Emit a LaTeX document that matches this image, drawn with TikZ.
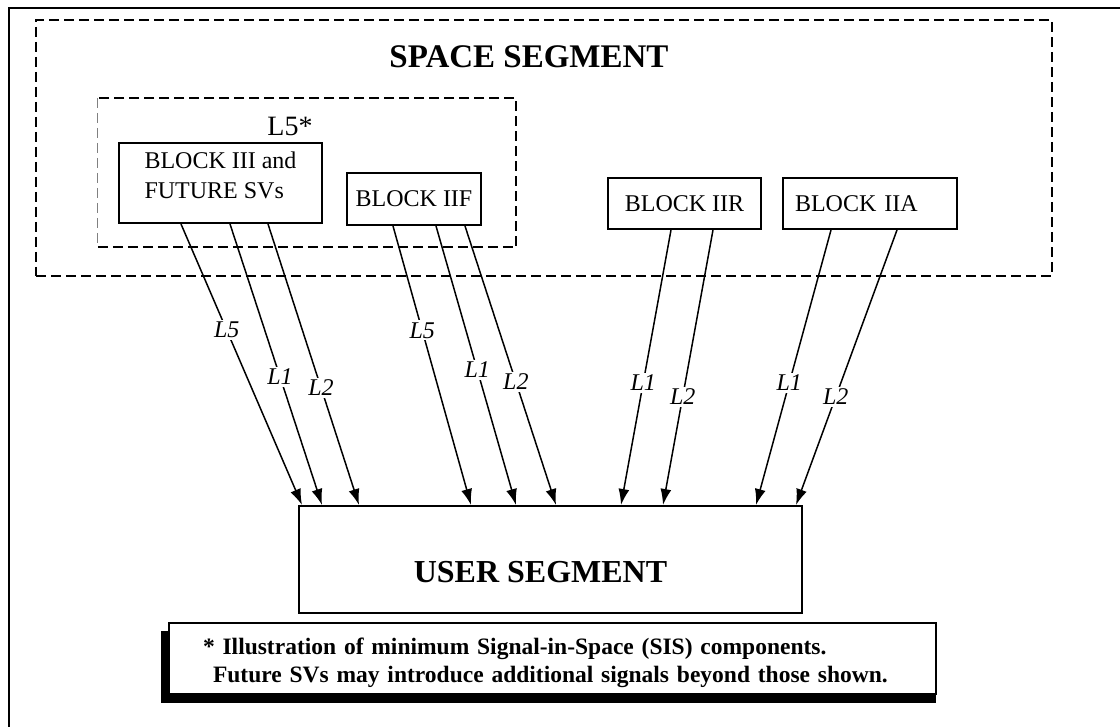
\documentclass[tikz,border=0pt]{standalone}
\usepackage{fontspec}
\setmainfont{Liberation Serif}
\usetikzlibrary{arrows.meta}

\begin{document}
\begin{tikzpicture}[
                    x=1pt, y=-1pt,
                    frame_line/.style={line width=2.4pt},
                    dash_box/.style={line width=2.4pt, dash pattern=on 10pt off 5pt},
                    block_box/.style={draw, line width=2pt, inner sep=0pt, font=\fontsize{24}{30}\selectfont},
                    seg_title/.style={font=\bfseries\fontsize{33}{38}\selectfont},
                    sig_line/.style={line width=1.5pt, -{Latex[length=16pt,width=11pt]}},
                    sig_label/.style={fill=white, inner sep=2pt, font=\itshape\fontsize{24}{28}\selectfont}
                ]
                    \useasboundingbox (0,0) rectangle (1120,727);
                    \draw[frame_line] (9,727) -- (9,8) -- (1120,8);

                    \node[draw, dash_box, minimum width=1016pt, minimum height=256pt] (space_seg) at (544,148) {};
                    \node[seg_title] (space_title) at (529,57) {SPACE SEGMENT};

                    \node[minimum width=418pt, minimum height=149pt] (l5_group) at (307,172.5) {};
                    \draw[dash_box] (l5_group.south west) -- (l5_group.south east) -- (l5_group.north east) -- (l5_group.north west);
                    \draw[gray, line width=0.8pt, dash pattern=on 10pt off 5pt] (l5_group.north west) -- (l5_group.south west);
                    \node[font=\fontsize{28}{32}\selectfont] (l5_title) at (290,126) {L5*};

                    \node[block_box, minimum width=203pt, minimum height=80pt, align=left] (blk_three) at (220.5,183) {BLOCK III and\\FUTURE SVs\rule[-16pt]{0pt}{16pt}};
                    \node[block_box, minimum width=134pt, minimum height=52pt] (blk_iif) at (414,199) {BLOCK IIF};
                    \node[block_box, minimum width=153pt, minimum height=51pt] (blk_iir) at (684.5,203.5) {BLOCK IIR};
                    \node[block_box, minimum width=174pt, minimum height=51pt, text width=150pt, inner xsep=12pt, align=left] (blk_iia) at (870,203.5) {BLOCK IIA};

                    \node[block_box, minimum width=503pt, minimum height=107pt, font=\bfseries\fontsize{32}{36}\selectfont, text height=45pt, text depth=0pt] (user_seg) at (550.5,559.5) {USER SEGMENT\hspace*{20pt}};

                    \draw[sig_line] ([xshift=63pt]blk_three.south west) -- node[sig_label, pos=.378] (lab_three_l5) {L5} ([xshift=4pt]user_seg.north west);
                    \draw[sig_line] ([xshift=112pt]blk_three.south west) -- node[sig_label, pos=.544] (lab_three_l1) {L1} ([xshift=24pt]user_seg.north west);
                    \draw[sig_line] ([xshift=150pt]blk_three.south west) -- node[sig_label, pos=.583] (lab_three_l2) {L2} ([xshift=61pt]user_seg.north west);

                    \draw[sig_line] ([xshift=47pt]blk_iif.south west) -- node[sig_label, pos=.374] (lab_iif_l5) {L5} ([xshift=173pt]user_seg.north west);
                    \draw[sig_line] ([xshift=90pt]blk_iif.south west) -- node[sig_label, pos=.516] (lab_iif_l1) {L1} ([xshift=218pt]user_seg.north west);
                    \draw[sig_line] ([xshift=119pt]blk_iif.south west) -- node[sig_label, pos=.559] (lab_iif_l2) {L2} ([xshift=258pt]user_seg.north west);

                    \draw[sig_line] ([xshift=64pt]blk_iir.south west) -- node[sig_label, pos=.556] (lab_iir_l1) {L1} ([xshift=323pt]user_seg.north west);
                    \draw[sig_line] ([xshift=106pt]blk_iir.south west) -- node[sig_label, pos=.606] (lab_iir_l2) {L2} ([xshift=365pt]user_seg.north west);

                    \draw[sig_line] ([xshift=49pt]blk_iia.south west) -- node[sig_label, pos=.556] (lab_iia_l1) {L1} ([xshift=458pt]user_seg.north west);
                    \draw[sig_line] ([xshift=115pt]blk_iia.south west) -- node[sig_label, pos=.606] (lab_iia_l2) {L2} ([xshift=498pt]user_seg.north west);

                    \node[fill=black, inner sep=0pt, minimum width=775pt, minimum height=72pt] (note_shadow) at (548.5,667) {};
                    \node[draw, fill=white, line width=1.4pt, minimum width=767pt, minimum height=71pt, text width=699pt, inner xsep=34pt, inner ysep=0pt, align=left, font=\bfseries\fontsize{23.5}{28}\selectfont] (note) at (552.5,658.5) {\rule{0pt}{26pt}* Illustration of minimum Signal-in-Space (SIS) components.\\\hspace*{10pt}Future SVs may introduce additional signals beyond those shown.};
                \end{tikzpicture}
\end{document}
